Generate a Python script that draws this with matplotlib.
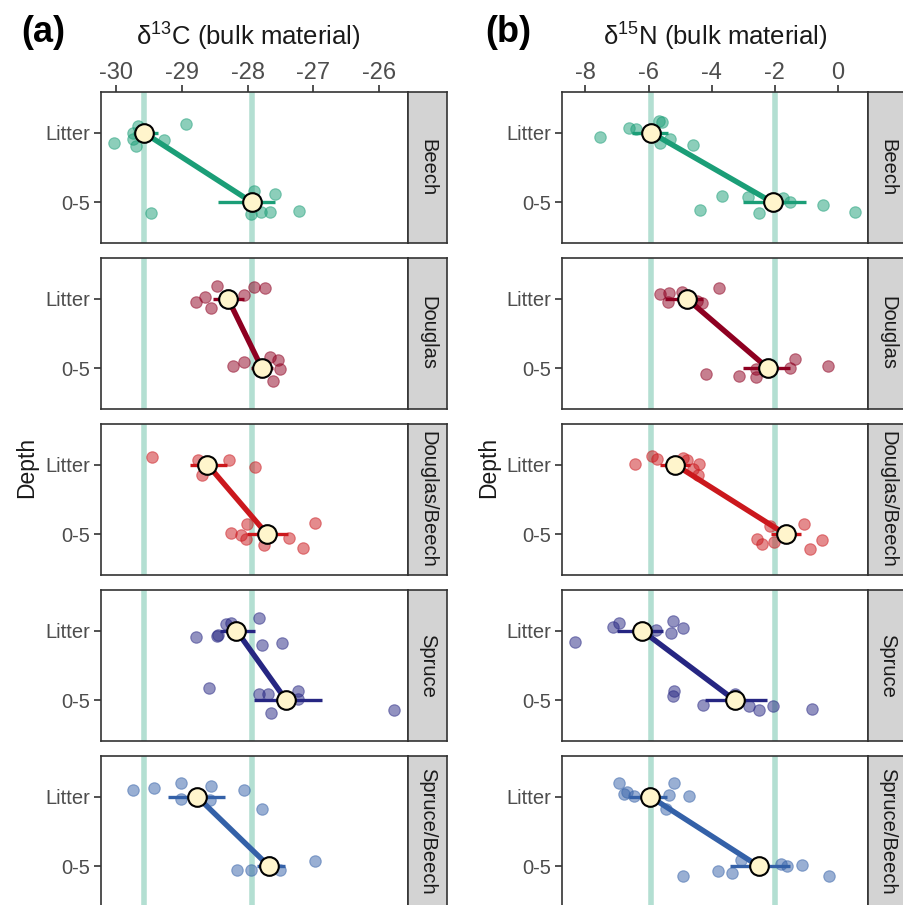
import matplotlib
matplotlib.use("Agg")
import matplotlib.pyplot as plt

plt.rcParams["font.family"] = ["Liberation Sans", "DejaVu Sans"]
plt.rcParams["mathtext.fontset"] = "custom"
plt.rcParams["mathtext.rm"] = "Liberation Sans"
plt.rcParams["mathtext.it"] = "Liberation Sans:italic"

species = ["Beech", "Douglas", "Douglas/Beech", "Spruce", "Spruce/Beech"]
depths = ["Litter", "0-5"]
colors = ["#1b9e77", "#8e0021", "#cb181d", "#262682", "#3461a8"]

# d13C, single samples (value, vertical jitter)
c13_litter = [
    [-29.66, -29.75, -29.74, -29.70, -30.03, -29.27, -28.94],
    [-28.46, -28.65, -28.79, -28.56, -28.06, -27.90, -27.73],
    [-29.46, -28.76, -28.70, -28.29, -27.88],
    [-28.78, -28.46, -28.45, -28.33, -28.25, -27.82, -27.78, -27.47],
    [-29.75, -29.42, -29.02, -29.02, -28.56, -28.57, -28.05, -27.78],
]
c13_litter_jit = [
    [-0.10, 0.01, 0.095, 0.186, 0.15, 0.105, -0.12],
    [-0.18, -0.024, 0.048, 0.129, -0.053, -0.167, -0.148],
    [-0.106, -0.072, 0.144, -0.058, 0.038],
    [0.095, 0.071, 0.06, -0.095, -0.105, -0.176, 0.2, 0.181],
    [-0.10, -0.129, -0.195, 0.038, -0.157, 0.048, -0.09, 0.181],
]
c13_soil = [
    [-27.90, -27.58, -27.95, -27.80, -27.66, -27.22, -29.47],
    [-28.22, -28.05, -27.66, -27.53, -27.51, -27.62],
    [-28.25, -28.10, -28.01, -28.02, -27.75, -27.37, -27.16, -26.97],
    [-28.59, -27.82, -27.69, -27.23, -27.24, -27.65, -25.77],
    [-28.16, -27.95, -27.66, -27.50, -26.97],
]
c13_soil_jit = [
    [-0.17, -0.124, 0.167, 0.138, 0.138, 0.129, 0.152],
    [-0.033, -0.091, -0.163, -0.120, 0.014, 0.182],
    [-0.014, 0.01, -0.144, 0.063, 0.154, 0.048, 0.192, -0.159],
    [-0.176, -0.086, -0.086, -0.129, -0.024, 0.176, 0.143],
    [0.048, 0.048, -0.062, 0.057, -0.071],
]
# d13C means with interval (low, high), order: Litter, 0-5
c13_mean = [[-29.58, -27.93], [-28.30, -27.78], [-28.61, -27.70], [-28.17, -27.41], [-28.77, -27.67]]
c13_low = [[-29.75, -28.45], [-28.52, -27.95], [-28.88, -28.01], [-28.42, -27.91], [-29.21, -27.86]]
c13_high = [[-29.36, -27.59], [-28.05, -27.62], [-28.32, -27.38], [-27.88, -26.87], [-28.34, -27.43]]
c13_ref = [-29.58, -27.93]

# d15N, single samples
n15_litter = [
    [-7.55, -6.61, -6.39, -5.68, -5.58, -5.63, -5.32, -4.60],
    [-5.63, -5.34, -5.37, -4.95, -4.47, -4.32, -3.77],
    [-6.42, -5.89, -5.74, -4.92, -4.79, -4.60, -4.44, -4.41],
    [-8.32, -7.13, -6.92, -5.76, -5.21, -5.29, -4.90],
    [-6.95, -6.77, -6.68, -6.47, -5.44, -5.34, -5.18, -4.71],
]
n15_litter_jit = [
    [0.067, -0.062, -0.048, -0.171, -0.152, 0.143, 0.086, 0.181],
    [-0.072, -0.077, 0.048, -0.096, 0.033, 0.067, -0.158],
    [-0.01, -0.129, -0.081, -0.096, -0.067, 0.062, 0.143, -0.01],
    [0.167, -0.057, -0.11, -0.014, -0.143, 0.038, -0.038],
    [-0.19, -0.038, -0.071, -0.014, 0.176, -0.024, -0.195, -0.005],
]
n15_soil = [
    [-4.37, -3.66, -2.84, -2.50, -1.74, -1.51, -0.47, 0.53],
    [-4.18, -3.14, -2.61, -2.61, -1.51, -1.36, -0.32],
    [-2.58, -2.42, -2.16, -2.03, -1.07, -0.90, -0.50],
    [-5.19, -5.21, -4.26, -3.26, -2.82, -2.50, -2.07, -0.82],
    [-4.90, -3.81, -3.37, -3.08, -1.79, -1.61, -1.14, -0.29],
]
n15_soil_jit = [
    [0.114, -0.09, -0.076, 0.152, -0.062, 0.0, 0.043, 0.133],
    [0.086, 0.11, 0.014, 0.12, 0.0, -0.129, -0.038],
    [0.071, 0.143, -0.119, 0.105, -0.143, 0.205, 0.076],
    [-0.133, -0.062, 0.071, -0.095, 0.081, 0.133, 0.081, 0.124],
    [0.138, 0.071, 0.095, -0.095, -0.038, -0.005, -0.014, 0.143],
]
n15_mean = [[-5.92, -2.07], [-4.79, -2.21], [-5.16, -1.65], [-6.21, -3.26], [-5.95, -2.50]]
n15_low = [[-6.53, -3.02], [-5.47, -3.02], [-5.65, -2.11], [-7.00, -4.21], [-6.63, -3.42]]
n15_high = [[-5.37, -1.02], [-4.26, -1.51], [-4.68, -1.16], [-5.53, -2.26], [-5.40, -1.53]]
n15_ref = [-5.92, -2.0]

W, H = 904, 905
fig = plt.figure(figsize=(W / 100, H / 100), dpi=100)


def px_axes(left, top, width, height):
    return fig.add_axes([left / W, 1 - (top + height) / H, width / W, height / H])


def draw_panel(left, width, strip_w, xlim, xticks, ref,
               litter, litter_jit, soil, soil_jit, mean, low, high):
    for i, sp in enumerate(species):
        top = 92 + i * 166
        ax = px_axes(left, top, width, 151)
        col = colors[i]
        for r in ref:
            ax.axvline(r, color="#1b9e77", alpha=0.33, lw=4, zorder=0)
        for d in range(2):
            ax.plot([low[i][d], high[i][d]], [d, d], color=col, lw=2.4,
                    solid_capstyle="butt", zorder=1)
        ax.scatter(litter[i], [0 + j for j in litter_jit[i]], s=68,
                   color=col, alpha=0.5, edgecolor=col, lw=0.8, zorder=2)
        ax.scatter(soil[i], [1 + j for j in soil_jit[i]], s=68,
                   color=col, alpha=0.5, edgecolor=col, lw=0.8, zorder=2)
        ax.plot(mean[i], [0, 1], color=col, lw=3.9, zorder=3,
                solid_capstyle="butt")
        ax.scatter(mean[i], [0, 1], s=180, color="#fff5cc",
                   edgecolor="black", lw=1.5, zorder=4)
        ax.set_xlim(*xlim)
        ax.set_ylim(1.58, -0.58)
        ax.set_yticks([0, 1])
        ax.set_yticklabels(depths)
        ax.xaxis.tick_top()
        ax.set_xticks(xticks)
        if i == 0:
            ax.set_xticklabels([str(t) for t in xticks])
            ax.tick_params(axis="x", length=5, width=1.2, color="#333333",
                           labelsize=17, labelcolor="#4d4d4d", pad=0.5)
        else:
            ax.tick_params(axis="x", length=0, labeltop=False)
        ax.tick_params(axis="y", length=5, width=1.2, color="#333333",
                       labelsize=14.5, labelcolor="#4d4d4d", pad=3)
        for s in ax.spines.values():
            s.set_color("#333333")
            s.set_linewidth(1.2)

        st = px_axes(left + width, top, strip_w, 151)
        st.set_facecolor("#d3d3d3")
        st.set_xticks([])
        st.set_yticks([])
        for s in st.spines.values():
            s.set_color("#333333")
            s.set_linewidth(1.2)
        st.text(0.5, 0.5, sp, rotation=-90, ha="center", va="center",
                fontsize=14.5, color="#1a1a1a", transform=st.transAxes)


draw_panel(101, 307, 39, (-30.23, -25.56), [-30, -29, -28, -27, -26], c13_ref,
           c13_litter, c13_litter_jit, c13_soil, c13_soil_jit,
           c13_mean, c13_low, c13_high)
draw_panel(562, 306, 40, (-8.74, 0.95), [-8, -6, -4, -2, 0], n15_ref,
           n15_litter, n15_litter_jit, n15_soil, n15_soil_jit,
           n15_mean, n15_low, n15_high)

fig.text(248 / W, 1 - 37 / H, r"δ$^{13}$C (bulk material)", ha="center",
         va="center", fontsize=18.5, color="#1a1a1a")
fig.text(715 / W, 1 - 37 / H, r"δ$^{15}$N (bulk material)", ha="center",
         va="center", fontsize=18.5, color="#1a1a1a")
fig.text(43 / W, 1 - 32 / H, "(a)", ha="center", va="center",
         fontsize=26, fontweight="bold")
fig.text(508 / W, 1 - 32 / H, "(b)", ha="center", va="center",
         fontsize=26, fontweight="bold")
fig.text(27 / W, 1 - 467 / H, "Depth", rotation=90, ha="center",
         va="center", fontsize=16.5, color="#1a1a1a")
fig.text(489 / W, 1 - 467 / H, "Depth", rotation=90, ha="center",
         va="center", fontsize=16.5, color="#1a1a1a")

fig.savefig("out.png", dpi=100)
